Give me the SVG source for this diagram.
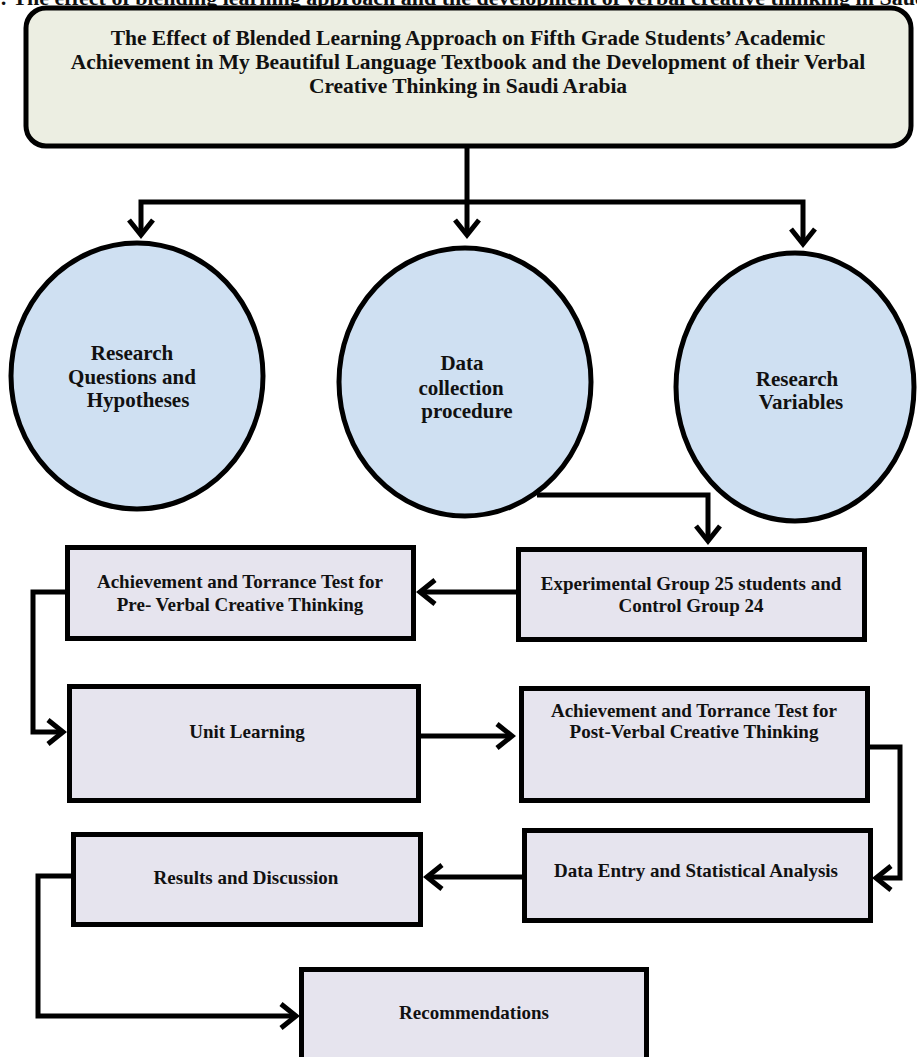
<svg xmlns="http://www.w3.org/2000/svg" width="917" height="1057" viewBox="0 0 917 1057">
<defs>
<style>
text{font-family:"Liberation Serif","Times New Roman",serif;font-weight:bold;fill:#111;}
.t{font-size:21.5px;text-anchor:middle;}
.c{font-size:21px;text-anchor:middle;}
.b{font-size:19px;text-anchor:middle;}
.box{fill:#E6E4EE;stroke:#000;stroke-width:5;}
.circ{fill:#CFE0F2;stroke:#000;stroke-width:5;}
.con{fill:none;stroke:#000;stroke-width:5;stroke-linejoin:miter;marker-end:url(#arr);}
</style>
<marker id="arr" markerUnits="userSpaceOnUse" viewBox="-20 -16 24 32" refX="0" refY="0" markerWidth="24" markerHeight="32" orient="auto">
<path d="M-15,-12 L0,0 L-15,12" fill="none" stroke="#000" stroke-width="5" stroke-linejoin="miter"/>
</marker>
</defs>
<rect width="917" height="1057" fill="#fff"/>
<text x="-11" y="5" style="font-size:22px">1: The effect of blending learning approach and the development of verbal creative thinking in Saudi Arabia</text>

<g id="title">
<rect x="26" y="8" width="885" height="138" rx="20" ry="20" fill="#ECEEE2" stroke="#000" stroke-width="5"/>
<text class="t" x="468" y="45">The Effect of Blended Learning Approach on Fifth Grade Students’ Academic</text>
<text class="t" x="468" y="69">Achievement in My Beautiful Language Textbook and the Development of their Verbal</text>
<text class="t" x="468" y="93">Creative Thinking in Saudi Arabia</text>
</g>

<g id="connectors">
<path class="con" d="M467,148 V235"/>
<path class="con" d="M467,202 H141 V235"/>
<path class="con" d="M467,202 H803 V244"/>
<path class="con" d="M537,495 H708 V541"/>
<path class="con" d="M516,592 H420"/>
<path class="con" d="M66,592 H33 V732 H63"/>
<path class="con" d="M420,736 H512"/>
<path class="con" d="M869,747 H900 V878 H876"/>
<path class="con" d="M522,877 H427"/>
<path class="con" d="M71,876 H38 V1016 H296"/>
</g>

<g id="research-questions">
<ellipse class="circ" cx="137" cy="376" rx="126" ry="133"/>
<text class="c" x="132" y="360">Research</text>
<text class="c" x="132" y="384">Questions and</text>
<text class="c" x="138" y="407">Hypotheses</text>
</g>
<g id="data-collection">
<ellipse class="circ" cx="465" cy="382" rx="126" ry="134"/>
<text class="c" x="462" y="370">Data</text>
<text class="c" x="461" y="395">collection</text>
<text class="c" x="467" y="418">procedure</text>
</g>
<g id="research-variables">
<ellipse class="circ" cx="795" cy="387" rx="119" ry="134"/>
<text class="c" x="797" y="386">Research</text>
<text class="c" x="801" y="409">Variables</text>
</g>

<g id="pre-test">
<rect class="box" x="67.5" y="547.5" width="346" height="91"/>
<text class="b" x="240" y="588">Achievement and Torrance Test for</text>
<text class="b" x="240" y="611">Pre- Verbal Creative Thinking</text>
</g>
<g id="groups">
<rect class="box" x="518.5" y="549.5" width="346" height="90"/>
<text class="b" x="691" y="590">Experimental Group 25 students and</text>
<text class="b" x="691" y="612">Control Group 24</text>
</g>
<g id="unit-learning">
<rect class="box" x="69.5" y="686.5" width="349" height="114"/>
<text class="b" x="247" y="738">Unit Learning</text>
</g>
<g id="post-test">
<rect class="box" x="521.5" y="688.5" width="346" height="112"/>
<text class="b" x="694" y="717">Achievement and Torrance Test for</text>
<text class="b" x="694" y="738">Post-Verbal Creative Thinking</text>
</g>
<g id="data-entry">
<rect class="box" x="524.5" y="830.5" width="346" height="90"/>
<text class="b" x="696" y="877">Data Entry and Statistical Analysis</text>
</g>
<g id="results">
<rect class="box" x="73.5" y="834.5" width="347" height="90"/>
<text class="b" x="246" y="884">Results and Discussion</text>
</g>
<g id="recommendations">
<rect class="box" x="301.5" y="969.5" width="345" height="100"/>
<text class="b" x="474" y="1019">Recommendations</text>
</g>
</svg>
